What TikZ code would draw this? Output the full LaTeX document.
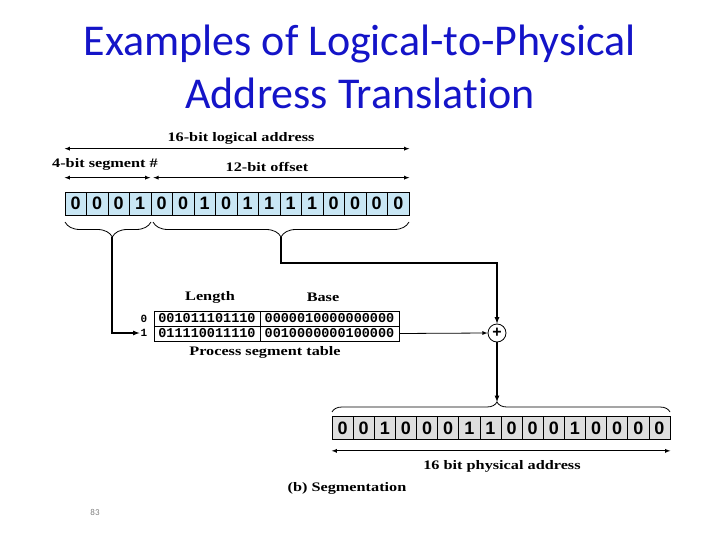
\documentclass[tikz,border=0pt]{standalone}
\usepackage{fontspec}
\setmainfont{Liberation Serif}
\newfontfamily\titlefont[Ligatures={NoCommon,NoDiscretionary,NoRare}]{Carlito}
\newfontfamily\lblfont[FakeStretch=1.25]{Liberation Serif}
\newfontfamily\bitfont{Liberation Sans}
\newfontfamily\tabfont{Liberation Mono}
\usepackage{xcolor}
\usepackage{tikz}
\usetikzlibrary{calc, positioning, decorations.pathreplacing}

\definecolor{titleblue}{RGB}{20,20,200}
\definecolor{regblue}{RGB}{200,230,244}
\definecolor{reggray}{RGB}{222,222,222}

\tikzset{
    bitcell/.style={draw, line width=0.7pt, inner sep=0pt, minimum width=21.5pt, minimum height=23pt,
        font=\bitfont\bfseries\fontsize{18}{18}\selectfont},
    tabcell/.style={draw, line width=0.8pt, inner sep=0pt, minimum height=15pt,
        font=\tabfont\bfseries\fontsize{13.5}{13.5}\selectfont},
    lbl/.style={inner sep=1pt, font=\lblfont\bfseries\fontsize{13}{13}\selectfont},
    flow/.style={line width=1.2pt},
    brc/.style={decorate, decoration={brace, amplitude=#1}, line width=0.8pt},
}

\begin{document}
\begin{tikzpicture}[>=latex, x=1pt, y=-1pt]
    \useasboundingbox (0,0) rectangle (720,540);

    % Tiêu đề
    \node[anchor=base, font=\titlefont\fontsize{44}{44}\selectfont, text=titleblue] (title1) at (360,56) {Examples of Logical-to-Physical};
    \node[anchor=base, font=\titlefont\fontsize{44}{44}\selectfont, text=titleblue] (title2) at (360,109) {Address Translation};

    % Địa chỉ logic 16 bit
    \foreach \b [count=\i] in {0,0,0,1,0,0,1,0,1,1,1,1,0,0,0,0}
        \node[bitcell, fill=regblue] (l\i) at ({65+21.5*(\i-0.5)},203.5) {\b};

    \draw[<->, line width=0.8pt] ([yshift=43pt]l1.north west) -- ([yshift=43pt]l16.north east);
    \node[lbl] (lbllog) at (241,138) {16-bit logical address};
    \draw[<->, line width=0.8pt] ([yshift=14pt]l1.north west) -- ([yshift=14pt, xshift=-1pt]l4.north east);
    \draw[<->, line width=0.8pt] ([yshift=14pt, xshift=2pt]l4.north east) -- ([yshift=14pt]l16.north east);
    \node[lbl] (lblseg) at (105,164) {4-bit segment \#};
    \node[lbl] (lbloff) at (267,167) {12-bit offset};

    % Ngoặc dưới
    \draw[brc=15pt, decoration={aspect=0.45}] (151,222) -- (65,222);
    \draw[brc=15pt] (409,222) -- (153,222);
    \coordinate (segtip) at (112,237);
    \coordinate (offtip) at (281,237);

    % Bảng đoạn
    \node[tabcell, minimum width=106pt] (len0) at (207,318.5) {001011101110};
    \node[tabcell, minimum width=139pt] (base0) at (329.5,318.5) {0000010000000000};
    \node[tabcell, minimum width=106pt] (len1) at (207,333.5) {011110011110};
    \node[tabcell, minimum width=139pt] (base1) at (329.5,333.5) {0010000000100000};
    \node[font=\tabfont\bfseries\fontsize{11}{11}\selectfont, inner sep=1pt] (r0) at (144,319) {0};
    \node[font=\tabfont\bfseries\fontsize{11}{11}\selectfont, inner sep=1pt] (r1) at (144,333) {1};
    \node[lbl] (lbllen) at (210,297) {Length};
    \node[lbl] (lblbase) at (323,297) {Base};
    \node[lbl] (lbltab) at (265,352) {Process segment table};

    % Bộ cộng
    \node[draw, circle, line width=0.8pt, minimum size=18pt, inner sep=0pt,
        font=\bitfont\bfseries\fontsize{16}{16}\selectfont] (plus) at (497,333) {+};

    % Đường nối
    \draw[flow, ->] (segtip) |- (r1.west);
    \coordinate (bend) at (281,263);
    \draw[flow, ->] (offtip) -- (bend) -| (plus.north);
    \draw[line width=0.8pt, ->] (base1.east) -- (plus.west);
    \coordinate (phystip) at (497,402);
    \draw[flow, ->] (plus.south) -- (phystip);

    % Địa chỉ vật lý 16 bit
    \foreach \b [count=\i] in {0,0,1,0,0,0,1,1,0,0,0,1,0,0,0,0}
        \node[bitcell, fill=reggray, minimum width=21.125pt] (p\i) at ({332+21.125*(\i-0.5)},428) {\b};
    \draw[brc=10pt, decoration={aspect=0.488}] (332,412) -- (670,412);
    \draw[<->, line width=0.8pt] ([yshift=-11pt]p1.south west) -- ([yshift=-11pt]p16.south east);
    \node[lbl] (lblphys) at (502,466) {16 bit physical address};
    \node[lbl] (lblfig) at (347,488) {(b) Segmentation};

    % Số trang
    \node[font=\titlefont\fontsize{9}{9}\selectfont, text=gray] (pagenum) at (95,512) {83};
\end{tikzpicture}
\end{document}
